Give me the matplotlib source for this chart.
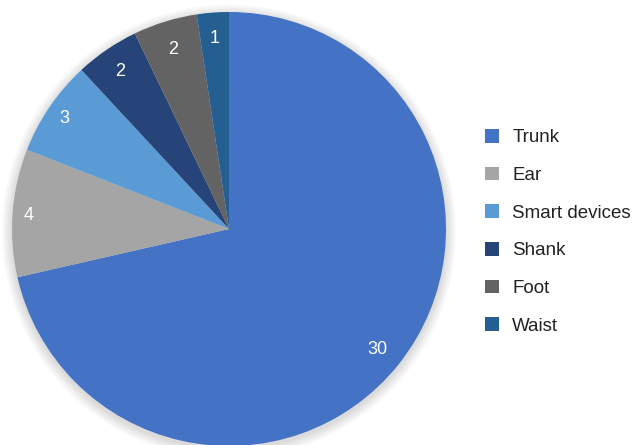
import numpy as np
import matplotlib
matplotlib.use("Agg")
import matplotlib.pyplot as plt
from matplotlib.patches import Circle, Patch
from matplotlib.transforms import offset_copy

categories = ["Trunk", "Ear", "Smart devices", "Shank", "Foot", "Waist"]
values = [30, 4, 3, 2, 2, 1]
colors = ["#4472C4", "#A5A5A5", "#5B9BD5", "#264478", "#636363", "#255E91"]
label_radius = [0.876, 0.926, 0.92, 0.888, 0.876, 0.888]

plt.rcParams['font.family'] = ['Liberation Sans', 'DejaVu Sans']

W, H = 632, 445
fig = plt.figure(figsize=(W / 100, H / 100), dpi=100)
cx, cy, r = 229, 229, 217
ax = fig.add_axes([(cx - r) / W, (H - cy - r) / H, 2 * r / W, 2 * r / H])
ax.set_xlim(-1, 1)
ax.set_ylim(-1, 1)
ax.set_aspect('equal')
ax.axis('off')

# soft shadow
for k in range(12):
    c = Circle((0, -0.012), 1 + 0.004 * (12 - k), color='black',
               alpha=0.012, lw=0, zorder=0)
    c.set_clip_on(False)
    ax.add_patch(c)

lab_fs = 13
wedges, texts = ax.pie(values, colors=colors, startangle=90, counterclock=False,
                       labels=[str(v) for v in values], labeldistance=0.87,
                       radius=1, wedgeprops=dict(linewidth=0),
                       textprops=dict(color='white', fontsize=lab_fs))
tr = offset_copy(ax.transData, fig=fig, x=0, y=-0.358 * lab_fs, units='points')
for w, t, lr in zip(wedges, texts, label_radius):
    w.set_zorder(2)
    t.set_zorder(3)
    ang = np.deg2rad((w.theta1 + w.theta2) / 2)
    t.set_position((lr * np.cos(ang), lr * np.sin(ang)))
    t.set_transform(tr)
    t.set_ha('center')
    t.set_va('baseline')
ax.set_xlim(-1, 1)
ax.set_ylim(-1, 1)

handles = [Patch(facecolor=c, edgecolor='none') for c in colors]
fig.legend(handles, categories, loc='upper left', bbox_to_anchor=(485 / W, 1 - 129 / H),
           frameon=False, fontsize=13.5, handlelength=0.75, handleheight=0.75,
           handletextpad=0.7, labelspacing=1.08, borderpad=0, borderaxespad=0,
           labelcolor='#222222')

fig.savefig("out.png", dpi=100)
